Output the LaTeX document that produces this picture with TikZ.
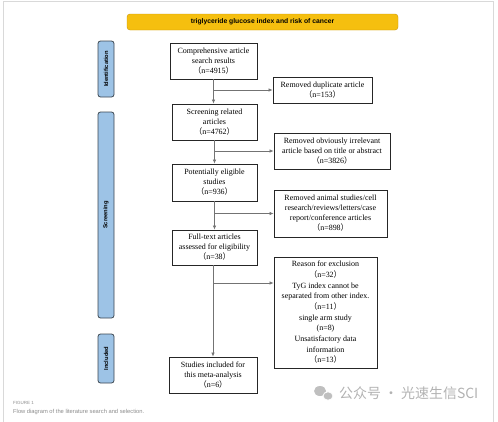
\documentclass[tikz,border=0pt]{standalone}
\usepackage{fontspec}
\setmainfont{Liberation Serif}
\newfontfamily\cjk{Noto Sans CJK SC}
\newfontfamily\sansf{Liberation Sans}
\usepackage{xcolor}
\usepackage{tikz}
\usetikzlibrary{arrows.meta,shapes}

\definecolor{bannergold}{HTML}{F5BF0F}
\definecolor{bannerline}{HTML}{C8960A}
\definecolor{tabblue}{HTML}{9DC3E6}
\definecolor{tabline}{HTML}{3C4650}
\newcommand{\nval}[1]{{\cjk （}n=#1{\cjk ）}}

\tikzset{
  stage/.style={draw=black!85,line width=0.8pt,align=center,inner sep=1pt,font=\fontsize{8}{10}\selectfont},
  side/.style={draw=tabline,fill=tabblue,rounded corners=2.5bp,line width=0.8pt,rotate=90,minimum height=16bp,inner sep=0pt,font=\sansf\bfseries\fontsize{5.8}{6}\selectfont},
  flow/.style={-{Latex[length=4bp,width=3.5bp]},draw=black!55,line width=0.7pt},
}

\begin{document}
\begin{tikzpicture}
    \useasboundingbox (0bp,0bp) rectangle (498bp,-422bp);
    \draw [black!15,line width=0.8pt] (3bp,-422bp) -- (3bp,-1.5bp) -- (493bp,-1.5bp) -- (493bp,-422bp);
    \node (title) at (262.5bp,-22bp)[draw=bannerline,fill=bannergold,rounded corners=3bp,minimum width=271bp,minimum height=16bp,font=\sansf\bfseries\fontsize{6.8}{7}\selectfont] {triglyceride glucose index and risk of cancer};
    % side tabs
    \node (Ident) at (106bp,-69bp)[side,minimum width=56bp] {Identification};
    \node (Screen) at (106bp,-215bp)[side,minimum width=206bp] {Screening};
    \node (Incl) at (106bp,-358.5bp)[side,minimum width=49bp] {Included};
    % main column
    \node (S1) at (213.5bp,-61bp)[stage,minimum width=87bp,minimum height=36bp] {Comprehensive article\\search results\\\nval{4915}};
    \node (S2) at (214.5bp,-122bp)[stage,minimum width=85bp,minimum height=36bp] {Screening related\\articles\\\nval{4762}};
    \node (S3) at (214.5bp,-182.5bp)[stage,minimum width=85bp,minimum height=37bp] {Potentially eligible\\studies\\\nval{936}};
    \node (S4) at (214.5bp,-247.5bp)[stage,minimum width=85bp,minimum height=35bp] {Full-text articles\\assessed for eligibility\\\nval{38}};
    \node (S5) at (213bp,-375bp)[stage,minimum width=88bp,minimum height=36bp] {Studies included for\\this meta-analysis\\\nval{6}};
    % excluded column
    \node (R1) at (322.5bp,-90bp)[stage,minimum width=99bp,minimum height=26bp] {Removed duplicate article\\\nval{153}};
    \node (R2) at (332bp,-151bp)[stage,minimum width=116bp,minimum height=36bp] {Removed obviously irrelevant\\article based on title or abstract\\\nval{3826}};
    \node (R3) at (330.5bp,-213.5bp)[stage,minimum width=113bp,minimum height=47bp] {Removed animal studies/cell\\research/reviews/letters/case\\report/conference articles\\\nval{898}};
    \node (R4) at (325.5bp,-312.5bp)[stage,minimum width=103bp,minimum height=111bp,font=\fontsize{8}{10.7}\selectfont] {Reason for exclusion\\\nval{32}\\TyG index cannot be\\separated from other index.\\\nval{11}\\single arm study\\(n=8)\\Unsatisfactory data\\information\\\nval{13}};
    \coordinate (B4) at (213bp,-283bp);
    % connectors
    \draw [flow] (S1.south) to (S1.south |- S2.north);
    \draw [flow] (S2.south) to (S2.south |- S3.north);
    \draw [flow] (S3.south) to (S3.south |- S4.north);
    \draw [flow] (S4.south -| S5.north) to (S5.north);
    \draw [flow] (S1.south |- R1.west) to (R1.west);
    \draw [flow] (S2.south |- R2.west) to (R2.west);
    \draw [flow] (S3.south |- R3.west) to (R3.west);
    \draw [flow] (B4) to (B4 -| R4.west);
    % caption and mark
    \node (fig) at (13bp,-403bp)[anchor=west,inner sep=0pt,text=black!45,font=\sansf\fontsize{4.5}{5}\selectfont] {FIGURE 1};
    \node (cap) at (13bp,-412bp)[anchor=west,inner sep=0pt,text=black!45,font=\sansf\fontsize{5.8}{6}\selectfont] {Flow diagram of the literature search and selection.};
    \fill [black!25] (320bp,-391bp) ellipse (6bp and 5bp);
    \fill [black!25,draw=white,line width=0.8pt] (328bp,-396bp) ellipse (5bp and 4.2bp);
    \node (mark) at (339bp,-393bp)[anchor=west,inner sep=0pt,text=black!30,font=\cjk\fontsize{14}{15}\selectfont] {公众号 · 光速生信SCI};
\end{tikzpicture}
\end{document}
